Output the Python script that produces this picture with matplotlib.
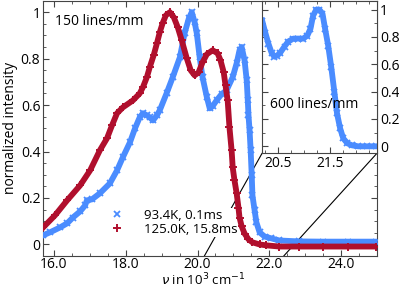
import numpy as np
import matplotlib
matplotlib.use('Agg')
import matplotlib.pyplot as plt
from matplotlib.ticker import MultipleLocator, FormatStrFormatter
from matplotlib.patches import ConnectionPatch

plt.rcParams['font.family'] = ['Open Sans', 'DejaVu Sans']
plt.rcParams['mathtext.fontset'] = 'dejavusans'

# --- data (wavenumber in 10^3 cm^-1, normalized intensity) ---
# 93.4K, 0.1ms (150 lines/mm)
nu_cold = [15.70, 15.89, 16.17, 16.37, 16.53, 16.73, 16.87, 16.92, 17.06, 17.28,
           17.56, 17.76, 17.92, 18.12, 18.26, 18.39, 18.48, 18.59, 18.67, 18.76,
           18.87, 18.95, 19.14, 19.31, 19.51, 19.64, 19.76, 19.84, 19.92, 19.98,
           20.06, 20.14, 20.26, 20.34, 20.42, 20.53, 20.67, 20.81, 20.98, 21.09,
           21.17, 21.23, 21.31, 21.37, 21.40, 21.42, 21.45, 21.48, 21.51, 21.53,
           21.59, 21.64, 21.73, 21.87, 22.06, 22.28, 22.84, 23.50, 24.20, 24.98]
int_cold = [0.039, 0.052, 0.073, 0.091, 0.116, 0.142, 0.168, 0.190, 0.194, 0.220,
            0.263, 0.319, 0.375, 0.440, 0.500, 0.547, 0.565, 0.556, 0.547, 0.534,
            0.556, 0.578, 0.651, 0.720, 0.806, 0.909, 0.974, 1.000, 0.957, 0.909,
            0.806, 0.720, 0.634, 0.586, 0.595, 0.620, 0.647, 0.664, 0.720, 0.780,
            0.836, 0.850, 0.793, 0.707, 0.620, 0.556, 0.491, 0.405, 0.297, 0.211,
            0.147, 0.095, 0.052, 0.034, 0.026, 0.017, 0.013, 0.012, 0.012, 0.012]

# 125.0K, 15.8ms (150 lines/mm)
nu_warm = [15.70, 16.03, 16.37, 16.73, 17.01, 17.28, 17.48, 17.62, 17.76, 17.92,
           18.20, 18.39, 18.48, 18.59, 18.67, 18.78, 18.87, 18.95, 19.03, 19.12,
           19.23, 19.34, 19.45, 19.56, 19.70, 19.81, 19.92, 20.03, 20.14, 20.26,
           20.42, 20.56, 20.64, 20.73, 20.78, 20.84, 20.89, 20.95, 20.98, 21.03,
           21.09, 21.14, 21.17, 21.23, 21.31, 21.42, 21.53, 21.73, 21.92, 22.28,
           22.84, 23.50, 24.20, 24.98]
int_warm = [0.073, 0.125, 0.190, 0.254, 0.319, 0.405, 0.457, 0.513, 0.565, 0.590,
            0.620, 0.650, 0.677, 0.720, 0.763, 0.815, 0.866, 0.914, 0.953, 0.987,
            1.000, 0.978, 0.935, 0.879, 0.802, 0.750, 0.728, 0.741, 0.784, 0.819,
            0.836, 0.823, 0.793, 0.741, 0.685, 0.620, 0.504, 0.405, 0.332, 0.276,
            0.220, 0.159, 0.116, 0.078, 0.047, 0.022, 0.009, 0.000, -0.004, -0.009,
            -0.009, -0.009, -0.009, -0.009]

# 93.4K, 600 lines/mm (inset)
nu_hr = [20.19, 20.25, 20.31, 20.37, 20.42, 20.48, 20.54, 20.62, 20.69, 20.79,
         20.88, 20.98, 21.06, 21.12, 21.17, 21.23, 21.29, 21.35, 21.40, 21.46,
         21.52, 21.58, 21.63, 21.69, 21.75, 21.83, 21.92, 22.04, 22.20, 22.38]
int_hr = [0.920, 0.832, 0.752, 0.686, 0.657, 0.664, 0.686, 0.730, 0.766, 0.788,
          0.788, 0.788, 0.810, 0.861, 0.956, 1.000, 1.000, 0.971, 0.861, 0.737,
          0.577, 0.394, 0.241, 0.131, 0.058, 0.022, 0.007, 0.000, 0.000, 0.000]

blue = '#4a8cff'
red = '#b00f2d'
spine_c = '#444444'

fig = plt.figure(figsize=(3.99, 2.89), dpi=100)
ax = fig.add_axes([0.108, 0.114, 0.837, 0.884])

ax.plot(nu_cold, int_cold, color=blue, lw=4.2, marker='x', ms=5, mew=1.3,
        label='93.4K, 0.1ms', zorder=3)
ax.plot(nu_warm, int_warm, color=red, lw=4.2, marker='+', ms=6, mew=1.4,
        label='125.0K, 15.8ms', zorder=3)

ax.set_xlim(15.7, 25.0)
ax.set_ylim(-0.05, 1.05)
ax.xaxis.set_major_locator(MultipleLocator(2.0))
ax.xaxis.set_minor_locator(MultipleLocator(0.5))
ax.xaxis.set_major_formatter(FormatStrFormatter('%.1f'))
ax.yaxis.set_minor_locator(MultipleLocator(0.05))
ax.set_yticks([0, 0.2, 0.4, 0.6, 0.8, 1.0])
ax.set_yticklabels(['0', '0.2', '0.4', '0.6', '0.8', '1'])
ax.tick_params(which='both', direction='in', top=True, right=True,
               labelsize=10, color=spine_c, pad=2)
ax.tick_params(axis='x', which='both', pad=1)
ax.tick_params(which='major', length=4)
ax.tick_params(which='minor', length=2.5)
for s in ax.spines.values():
    s.set_color(spine_c)
ax.set_xlabel(r'$\nu$ in 10$^3$ cm$^{-1}$', fontsize=9.5)
ax.xaxis.set_label_coords(0.48, -0.115, transform=ax.transAxes)
ax.xaxis.label.set_va('baseline')
ax.set_ylabel('normalized intensity', fontsize=10, labelpad=2)
ax.text(0.035, 0.92, '150 lines/mm', transform=ax.transAxes, fontsize=10,
        va='center', ha='left')

leg = ax.legend(loc='lower left', bbox_to_anchor=(0.195, 0.075), fontsize=9.5,
                frameon=True, framealpha=1, edgecolor='none', facecolor='white',
                handlelength=1.2, handletextpad=1.4, borderpad=0.1,
                labelspacing=0.05, borderaxespad=0)
for h in leg.legend_handles:
    h.set_linestyle('none')
leg.set_zorder(2.5)

# inset
axins = fig.add_axes([0.657, 0.47, 0.288, 0.528])
axins.plot(nu_hr, int_hr, color=blue, lw=4.2, marker='x', ms=5, mew=1.3)
axins.set_xlim(20.19, 22.40)
axins.set_ylim(-0.05, 1.066)
axins.set_xticks([20.5, 21.5])
axins.xaxis.set_major_formatter(FormatStrFormatter('%.1f'))
axins.xaxis.set_minor_locator(MultipleLocator(0.25))
axins.set_yticks([0, 0.2, 0.4, 0.6, 0.8, 1.0])
axins.set_yticklabels(['0', '0.2', '0.4', '0.6', '0.8', '1'])
axins.yaxis.set_minor_locator(MultipleLocator(0.1))
axins.tick_params(which='both', direction='in', top=True, right=True,
                  left=True, labelleft=False, labelright=True,
                  labelsize=10, color=spine_c, pad=2)
axins.tick_params(which='major', length=4)
axins.tick_params(which='minor', length=2.5)
for s in axins.spines.values():
    s.set_color(spine_c)
axins.text(0.07, 0.32, '600 lines/mm', transform=axins.transAxes, fontsize=10,
           va='center', ha='left')

# zoom connector lines
for xc in axins.get_xlim():
    cp = ConnectionPatch(xyA=(xc, -0.05), coordsA='data', axesA=ax,
                         xyB=(xc, -0.05), coordsB='data', axesB=axins,
                         color='black', lw=0.8, zorder=2)
    ax.add_artist(cp)

fig.savefig('out.png', dpi=100)
